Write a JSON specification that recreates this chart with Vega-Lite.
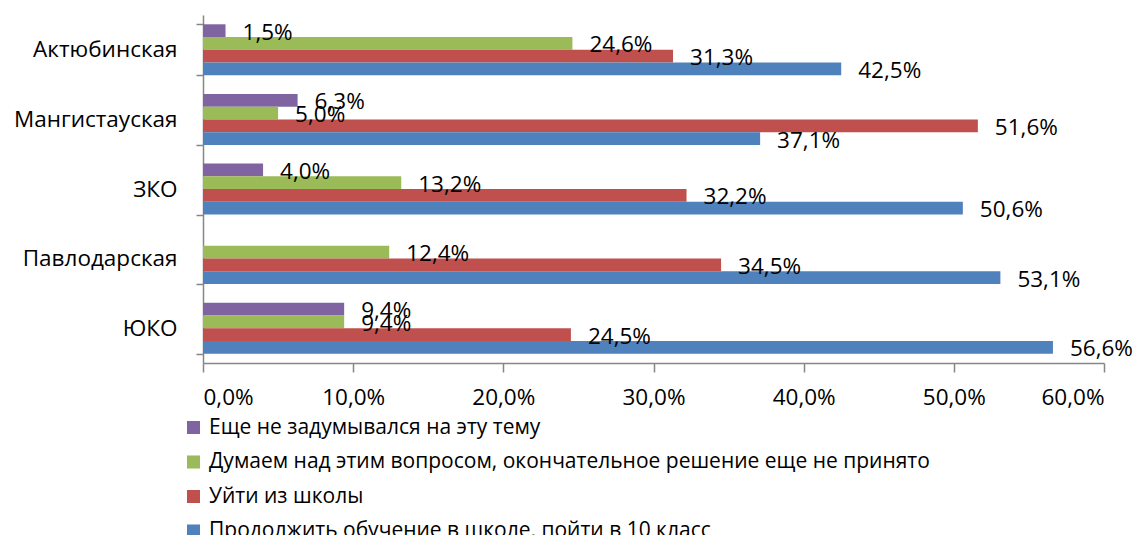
{
  "$schema": "https://vega.github.io/schema/vega-lite/v6.json",
  "width": 901,
  "height": 348,
  "autosize": {"type": "none"},
  "padding": {"left": 203, "top": 15, "right": 37, "bottom": 172},
  "background": "white",
  "config": {
    "locale": {"number": {"decimal": ",", "thousands": " ", "grouping": [3], "currency": ["", ""]}},
    "font": "Open Sans",
    "view": {"stroke": null},
    "axis": {"labelFont": "Open Sans", "labelFontSize": 22.5, "labelColor": "#000000", "domainColor": "#868686", "tickColor": "#868686", "domainWidth": 1.5, "tickWidth": 1.5, "grid": false, "title": null}
  },
  "data": {"values": [
    {"region": "Актюбинская", "s": "Еще не задумывался на эту тему", "v": 0.015},
    {"region": "Актюбинская", "s": "Думаем над этим вопросом, окончательное решение еще не принято", "v": 0.246},
    {"region": "Актюбинская", "s": "Уйти из школы", "v": 0.313},
    {"region": "Актюбинская", "s": "Продолжить обучение в школе, пойти в 10 класс", "v": 0.425},
    {"region": "Мангистауская", "s": "Еще не задумывался на эту тему", "v": 0.063},
    {"region": "Мангистауская", "s": "Думаем над этим вопросом, окончательное решение еще не принято", "v": 0.05},
    {"region": "Мангистауская", "s": "Уйти из школы", "v": 0.516},
    {"region": "Мангистауская", "s": "Продолжить обучение в школе, пойти в 10 класс", "v": 0.371},
    {"region": "ЗКО", "s": "Еще не задумывался на эту тему", "v": 0.04},
    {"region": "ЗКО", "s": "Думаем над этим вопросом, окончательное решение еще не принято", "v": 0.132},
    {"region": "ЗКО", "s": "Уйти из школы", "v": 0.322},
    {"region": "ЗКО", "s": "Продолжить обучение в школе, пойти в 10 класс", "v": 0.506},
    {"region": "Павлодарская", "s": "Думаем над этим вопросом, окончательное решение еще не принято", "v": 0.124},
    {"region": "Павлодарская", "s": "Уйти из школы", "v": 0.345},
    {"region": "Павлодарская", "s": "Продолжить обучение в школе, пойти в 10 класс", "v": 0.531},
    {"region": "ЮКО", "s": "Еще не задумывался на эту тему", "v": 0.094},
    {"region": "ЮКО", "s": "Думаем над этим вопросом, окончательное решение еще не принято", "v": 0.094},
    {"region": "ЮКО", "s": "Уйти из школы", "v": 0.245},
    {"region": "ЮКО", "s": "Продолжить обучение в школе, пойти в 10 класс", "v": 0.566}
  ]},
  "encoding": {
    "y": {
      "field": "region", "type": "nominal",
      "sort": ["Актюбинская", "Мангистауская", "ЗКО", "Павлодарская", "ЮКО"],
      "scale": {"paddingInner": 0.267, "paddingOuter": 0.1335},
      "axis": {"title": null, "tickBand": "extent", "tickSize": 7, "labelPadding": 19}
    },
    "x": {
      "field": "v", "type": "quantitative",
      "scale": {"domain": [0, 0.6], "nice": false},
      "axis": {"title": null, "values": [0, 0.1, 0.2, 0.3, 0.4, 0.5, 0.6], "format": ".1%", "tickSize": 9, "labelPadding": 14}
    },
    "yOffset": {
      "field": "s", "type": "nominal",
      "sort": ["Еще не задумывался на эту тему", "Думаем над этим вопросом, окончательное решение еще не принято", "Уйти из школы", "Продолжить обучение в школе, пойти в 10 класс"]
    }
  },
  "layer": [
    {
      "mark": {"type": "bar"},
      "encoding": {
        "color": {
          "field": "s", "type": "nominal",
          "scale": {
            "domain": ["Еще не задумывался на эту тему", "Думаем над этим вопросом, окончательное решение еще не принято", "Уйти из школы", "Продолжить обучение в школе, пойти в 10 класс"],
            "range": ["#8064A2", "#9BBB59", "#C0504D", "#4F81BD"]
          },
          "legend": {
            "title": null, "orient": "none", "legendX": -20, "legendY": 402, "direction": "vertical",
            "symbolType": "square", "symbolSize": 170, "symbolStrokeWidth": 0,
            "labelFont": "Open Sans", "labelFontSize": 21, "labelColor": "#000000", "labelLimit": 1000,
            "rowPadding": 12.5, "padding": 0, "labelOffset": 5
          }
        }
      }
    },
    {
      "mark": {"type": "text", "align": "left", "baseline": "middle", "dx": 17, "dy": 2, "fontSize": 22.5, "font": "Open Sans", "color": "#000000"},
      "encoding": {"text": {"field": "v", "type": "quantitative", "format": ".1%"}}
    }
  ]
}
